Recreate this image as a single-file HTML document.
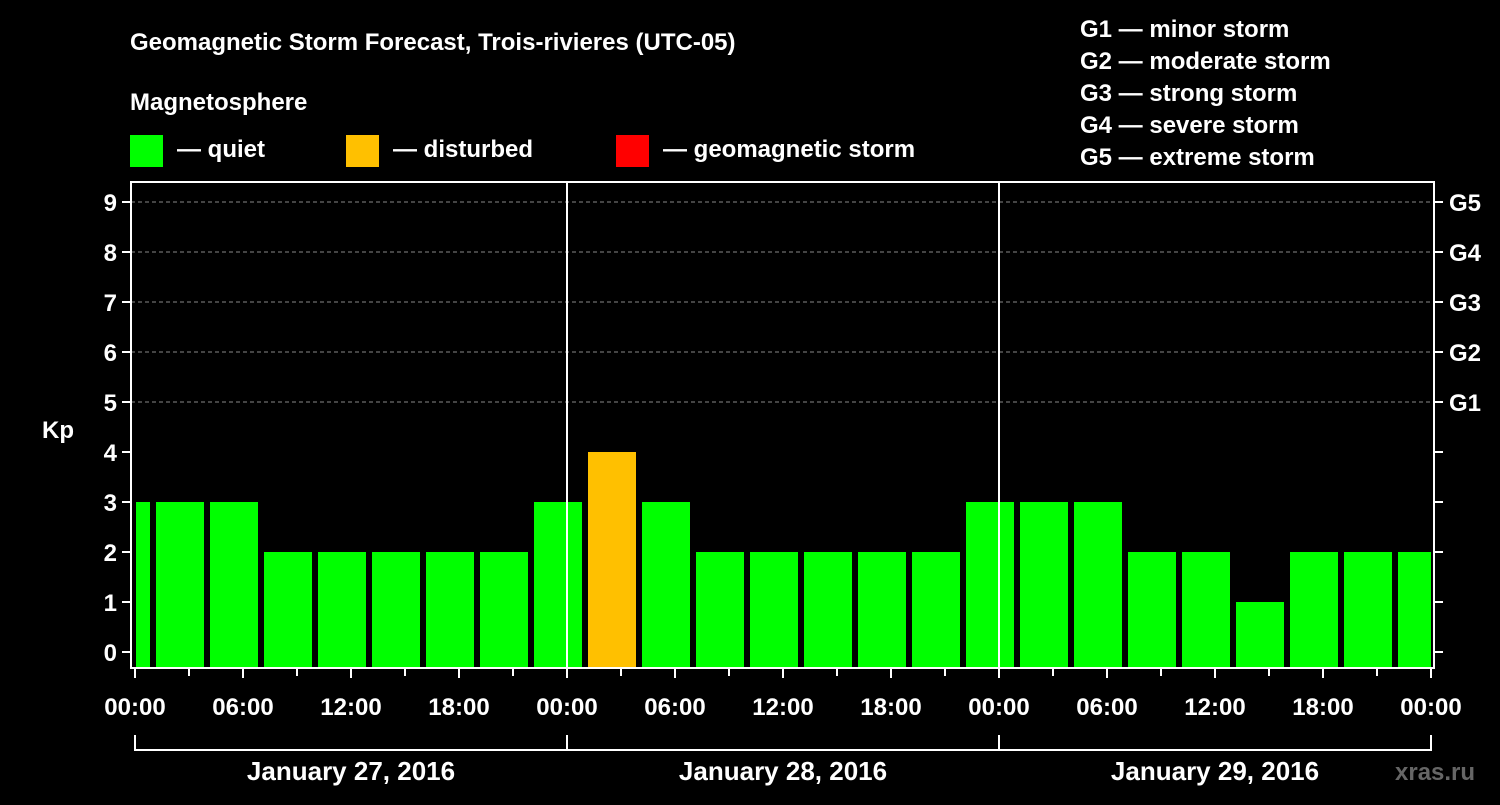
<!DOCTYPE html>
<html><head><meta charset="utf-8"><style>
body{margin:0;background:#000;width:1500px;height:800px;overflow:hidden}
svg text{font-family:"Liberation Sans",sans-serif;font-weight:bold;fill:#fff}
</style></head><body>
<svg id="c" width="1500" height="800">
<text x="130" y="50" font-size="24">Geomagnetic Storm Forecast, Trois-rivieres (UTC-05)</text>
<text x="130" y="110" font-size="24">Magnetosphere</text>
<rect x="130" y="135" width="33" height="32" fill="#00ff00"/>
<text x="177" y="157" font-size="24">— quiet</text>
<rect x="346" y="135" width="33" height="32" fill="#ffc000"/>
<text x="393" y="157" font-size="24">— disturbed</text>
<rect x="616" y="135" width="33" height="32" fill="#ff0000"/>
<text x="663" y="157" font-size="24">— geomagnetic storm</text>
<g font-size="24">
<text x="1080" y="37">G1 — minor storm</text>
<text x="1080" y="69">G2 — moderate storm</text>
<text x="1080" y="101">G3 — strong storm</text>
<text x="1080" y="133">G4 — severe storm</text>
<text x="1080" y="165">G5 — extreme storm</text>
</g>
<text x="42" y="438" font-size="24">Kp</text>
<text x="1395" y="780" font-size="24" fill="#666" style="fill:#666">xras.ru</text>
<g id="g"></g>
</svg>
<script>
const values=[3,3,3,2,2,2,2,2,3,4,3,2,2,2,2,2,3,3,3,2,2,1,2,2,2];
const hourLabels=["00:00","06:00","12:00","18:00","00:00","06:00","12:00","18:00","00:00","06:00","12:00","18:00","00:00"];
const dayLabels=["January 27, 2016","January 28, 2016","January 29, 2016"];
const gLabels=["G1","G2","G3","G4","G5"];
const NS="http://www.w3.org/2000/svg",g=document.getElementById('g');
const L=131,R=1434,T=182,B=668,X0=135;
const x=h=>X0+h*18, y=k=>652-k*50;
function mk(t,a,txt){const e=document.createElementNS(NS,t);for(const k in a)e.setAttribute(k,a[k]);if(txt!=null)e.textContent=txt;g.appendChild(e);return e;}
for(let k=5;k<=9;k++){const e=mk('line',{x1:L,x2:R,y1:y(k),y2:y(k),stroke:'#888','stroke-dasharray':'4,3'});

}
values.forEach((v,i)=>{let s=-2+i*3,a=Math.max(x(s)+3,X0+1),b=Math.min(x(s+3)-3,R-3);
const e=mk('rect',{x:a,y:y(v),width:b-a,height:B-y(v),fill:v>=5?'#ff0000':v>=4?'#ffc000':'#00ff00'});

});
[1,2].forEach(d=>{const e=mk('line',{x1:x(d*24),x2:x(d*24),y1:T,y2:B,stroke:'#fff','stroke-width':2});

});
const f=mk('rect',{x:L,y:T,width:R-L,height:B-T,fill:'none',stroke:'#fff','stroke-width':2});


for(let k=0;k<=9;k++){mk('line',{x1:L-9,x2:L,y1:y(k),y2:y(k),stroke:'#fff','stroke-width':2});
mk('line',{x1:R,x2:R+9,y1:y(k),y2:y(k),stroke:'#fff','stroke-width':2});
const t=mk('text',{x:L-14,y:y(k)+9,'font-size':24,'text-anchor':'end'},String(k));

}
gLabels.forEach((s,i)=>{const t=mk('text',{x:1449,y:y(5+i)+9,'font-size':24},s);

});
for(let h=0;h<=72;h+=3){const maj=h%6==0;mk('line',{x1:x(h),x2:x(h),y1:B,y2:B+(maj?10:8),stroke:'#fff','stroke-width':2});}
hourLabels.forEach((s,i)=>{const t=mk('text',{x:x(i*6),y:715,'font-size':24,'text-anchor':'middle'},s);

});
mk('path',{d:`M${x(0)},735V750H${x(72)}V735M${x(24)},735V750M${x(48)},735V750`,stroke:'#fff','stroke-width':2,fill:'none'});
dayLabels.forEach((s,i)=>{const t=mk('text',{x:x(i*24+12),y:780,'font-size':26,'text-anchor':'middle'},s);

});
</script>
</body></html>
